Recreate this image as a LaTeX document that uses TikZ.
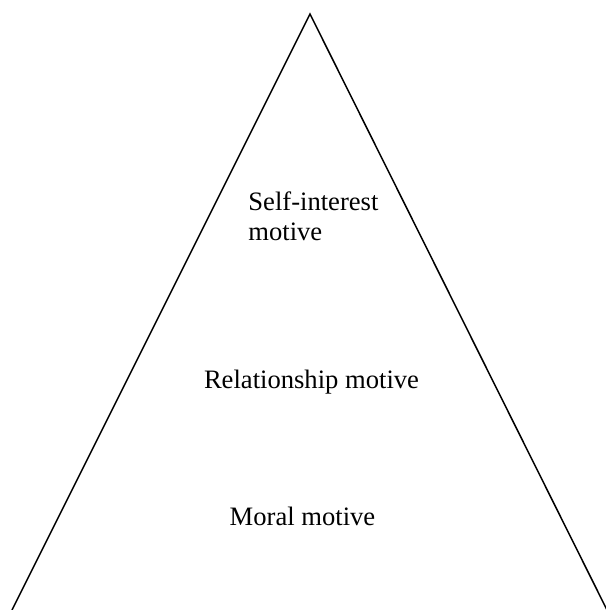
\documentclass[tikz,border=0pt]{standalone}
\usepackage{fontspec}
\setmainfont{Liberation Serif}
\usepackage{tikz}
\usetikzlibrary{positioning}

\tikzset{
	level/.style={inner sep=0pt, font=\fontsize{13.3}{15}\selectfont},
	side/.style={line width=0.75pt}
}

\begin{document}
\begin{tikzpicture}[x=0.5pt, y=-0.5pt]
	\useasboundingbox (0,0) rectangle (605,610);
	\coordinate (apex) at (310,14);
	\coordinate (baseL) at (12,610);
	\coordinate (baseR) at (607,610);
	\draw[side] (baseL) -- (apex) -- (baseR);

	\node[level, anchor=base west, align=left] (self) at (248,240) {Self-interest\\motive};
	\node[level, anchor=base] (relation) at (311.5,388) {Relationship motive};
	\node[level, anchor=base] (moral) at (302.5,525) {Moral motive};
\end{tikzpicture}
\end{document}
